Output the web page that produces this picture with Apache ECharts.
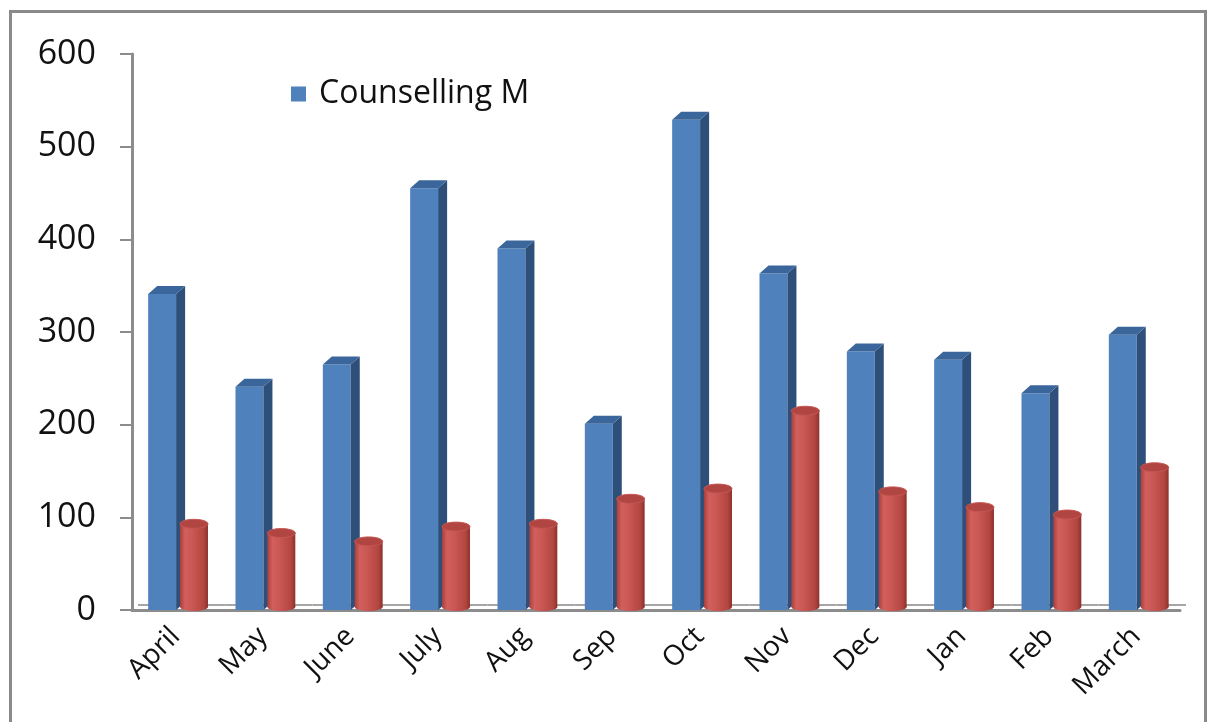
<!DOCTYPE html>
<html>
<head>
<meta charset="utf-8">
<title>Counselling</title>
<script src="https://cdn.jsdelivr.net/npm/echarts@6/dist/echarts.min.js"></script>
<style>
  html, body { margin: 0; padding: 0; background: #fff; overflow: hidden; }
  #frame { position: absolute; left: 9px; top: 10px; width: 1192px; height: 800px; border: 3px solid #8a8a8a; }
  #main { position: absolute; left: 0; top: 0; width: 1210px; height: 722px; }
</style>
</head>
<body>
<div id="frame"></div>
<div id="main"></div>
<script>
// data
var months = ['April', 'May', 'June', 'July', 'Aug', 'Sep', 'Oct', 'Nov', 'Dec', 'Jan', 'Feb', 'March'];
var counsellingM = [341, 241, 265, 455, 390, 201, 529, 363, 279, 270, 234, 297];
var secondSeries = [93, 83, 74, 90, 93, 120, 131, 215, 128, 111, 103, 154];
var yTicks = [0, 100, 200, 300, 400, 500, 600];

var chartDom = document.getElementById('main');
var myChart = echarts.init(chartDom);

var DX = 9, DY = 8; // 3d depth

// blue boxes (with the floor strip behind them)
function renderBox(params, api) {
  var i = api.value(0);
  var base = api.coord([i, 0]);
  var top = api.coord([i, api.value(1)]);
  var bw = api.size([1, 0])[0];
  var w = bw * 0.32;
  var x0 = base[0] - bw * 0.315;
  var x1 = x0 + w;
  var yb = base[1], yt = top[1];
  return {
    type: 'group',
    children: [
      { // floor back edge
        type: 'line',
        shape: { x1: base[0] - bw / 2 + 6, y1: yb - 5, x2: base[0] + bw / 2 + 6, y2: yb - 5 },
        style: { stroke: '#a6a6a6', lineWidth: 2 }
      },
      {
        type: 'rect',
        shape: { x: x0, y: yt, width: w, height: yb - yt },
        style: { fill: '#4f81bd' }
      },
      {
        type: 'polygon',
        shape: { points: [[x1, yt], [x1 + DX, yt - DY], [x1 + DX, yb - DY], [x1, yb]] },
        style: { fill: '#2d4f7a' }
      },
      {
        type: 'polygon',
        shape: { points: [[x0, yt], [x0 + DX, yt - DY], [x1 + DX, yt - DY], [x1, yt]] },
        style: { fill: '#3b669b' }
      }
    ]
  };
}

// red cylinders
function renderCyl(params, api) {
  var i = api.value(0);
  var base = api.coord([i, 0]);
  var top = api.coord([i, api.value(1)]);
  var bw = api.size([1, 0])[0];
  var w = bw * 0.32;
  var x0 = base[0] + bw * 0.05;
  var cx = x0 + w / 2;
  var yb = base[1] - 3, yt = top[1];
  var grad = new echarts.graphic.LinearGradient(0, 0, 1, 0, [
    { offset: 0, color: '#a8403d' },
    { offset: 0.18, color: '#d25f5b' },
    { offset: 0.45, color: '#c95753' },
    { offset: 0.85, color: '#b3453f' },
    { offset: 1, color: '#8a302d' }
  ]);
  return {
    type: 'group',
    children: [
      { type: 'ellipse', shape: { cx: cx, cy: yb, rx: w / 2, ry: 4 }, style: { fill: grad } },
      { type: 'rect', shape: { x: x0, y: yt, width: w, height: yb - yt }, style: { fill: grad } },
      { type: 'ellipse', shape: { cx: cx, cy: yt, rx: w / 2, ry: 4.5 }, style: { fill: '#b04542', stroke: '#c65753', lineWidth: 1 } }
    ]
  };
}

var option = {
  animation: false,
  textStyle: { fontFamily: 'Open Sans' },
  grid: { left: 132, right: 30, top: 54, bottom: 112 },
  legend: {
    left: 286,
    top: 73,
    data: [{ name: 'Counselling M', icon: 'rect' }],
    itemWidth: 15,
    itemHeight: 15,
    textStyle: { fontSize: 32, color: '#111', padding: [0, 0, 0, 8], fontFamily: 'Open Sans' }
  },
  xAxis: {
    type: 'category',
    data: months,
    boundaryGap: true,
    axisLine: { lineStyle: { color: '#8c8c8c', width: 3 } },
    axisTick: { length: 10, lineStyle: { color: '#8c8c8c', width: 2 } },
    axisLabel: { rotate: 45, fontSize: 28, color: '#111', margin: 22 }
  },
  yAxis: {
    type: 'value',
    min: yTicks[0],
    max: yTicks[yTicks.length - 1],
    interval: 100,
    splitLine: { show: false },
    axisLine: { show: true, lineStyle: { color: '#8c8c8c', width: 3 } },
    axisTick: { show: true, length: 12, lineStyle: { color: '#8c8c8c', width: 2 } },
    axisLabel: { fontSize: 34, color: '#111', margin: 36 }
  },
  series: [
    {
      name: 'Counselling M',
      type: 'custom',
      renderItem: renderBox,
      itemStyle: { color: '#4f81bd' },
      encode: { x: 0, y: 1 },
      data: counsellingM.map(function (v, i) { return [i, v]; })
    },
    {
      name: 'Series 2',
      type: 'custom',
      renderItem: renderCyl,
      itemStyle: { color: '#c0504d' },
      encode: { x: 0, y: 1 },
      data: secondSeries.map(function (v, i) { return [i, v]; })
    }
  ]
};

myChart.setOption(option);
</script>
</body>
</html>
